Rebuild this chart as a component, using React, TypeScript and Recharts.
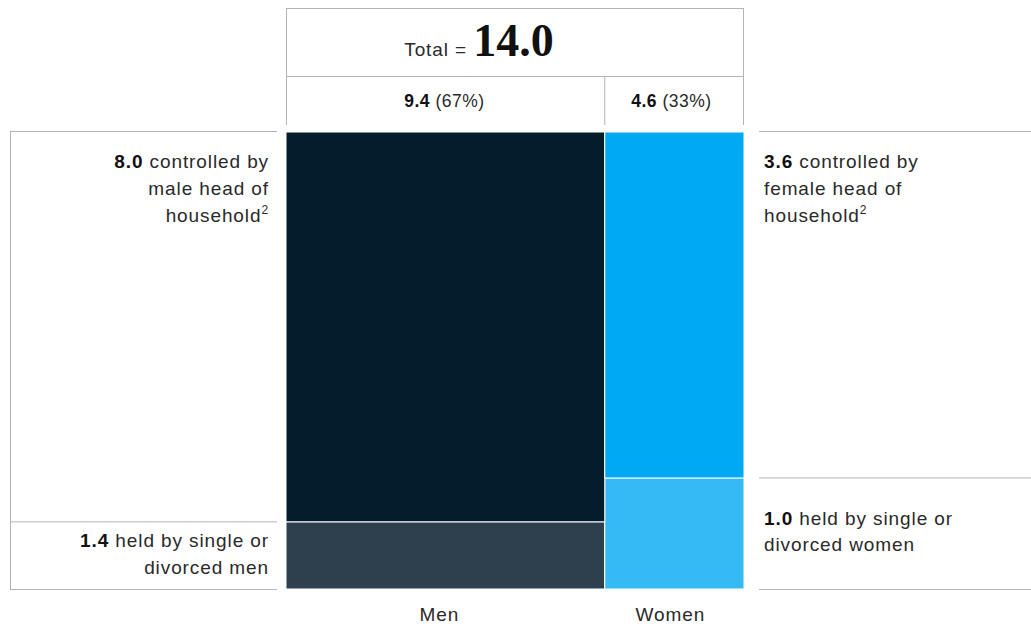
import { ComposedChart, XAxis, YAxis, ReferenceArea, Scatter, Customized } from 'recharts';

document.body.style.margin = '0';

const groups = ['Men', 'Women'];
const groupTotals = ['9.4', '4.6'];
const groupShares = ['67%', '33%'];
const total = '14.0';
// column widths as drawn, % of full chart width
const columnWidths = [69.6, 30.4];
// bottom segment (single / divorced) as drawn, % of column height
const singleShares = [14.7, 24.3];
const headValues = ['8.0', '3.6'];
const singleValues = ['1.4', '1.0'];

const headColors = ['#051c2c', '#00a9f4'];
const singleColors = ['#2e3f4e', '#35baf6'];

const W = 1031;
const H = 627;
const M = { top: 132, right: 287, bottom: 38, left: 286 };
const PW = W - M.left - M.right;
const PH = H - M.top - M.bottom;
const LINE = '#b4b4b4';
const SANS = '"Liberation Sans", Arial, sans-serif';
const SERIF = '"Liberation Serif", "DejaVu Serif", serif';
const TXT = '#2a2a2a';
const FS = 19;
const LS = 0.9;

const xPx = (pct: number) => M.left + (PW * pct) / 100;
const yPx = (pct: number) => M.top + PH * (1 - pct / 100);

const starts = columnWidths.map((_, i) => columnWidths.slice(0, i).reduce((a, b) => a + b, 0));

const data = groups.map((g, i) => ({
  name: g,
  x: starts[i] + columnWidths[i] / 2,
  y: singleShares[i],
}));

const Sup = () => (
  <tspan fontSize={12} dy={-8}>2</tspan>
);

const Annotations = () => {
  const menCenter = xPx(starts[0] + columnWidths[0] / 2);
  const womenCenter = xPx(starts[1] + columnWidths[1] / 2);
  const split = xPx(starts[1]);
  const menSplitY = yPx(singleShares[0]);
  const womenSplitY = yPx(singleShares[1]);
  const bottom = yPx(0) + 0.5;
  return (
    <g fontFamily={SANS} fill={TXT} letterSpacing={LS}>
      {/* top table */}
      <rect x={M.left + 0.5} y={8.5} width={PW - 1} height={68} fill="none" stroke={LINE} />
      <line x1={M.left + 0.5} x2={M.left + 0.5} y1={76} y2={125} stroke={LINE} />
      <line x1={M.left + PW - 0.5} x2={M.left + PW - 0.5} y1={76} y2={125} stroke={LINE} />
      <line x1={split} x2={split} y1={76} y2={125} stroke={LINE} />
      <text x={479} y={56} textAnchor="middle">
        <tspan fontSize={FS}>Total = </tspan>
        <tspan fontSize={46} fontWeight="bold" fontFamily={SERIF} fill="#111" letterSpacing={0}>{total}</tspan>
      </text>
      <text x={menCenter - 1} y={107} textAnchor="middle" fontSize={17.5} letterSpacing={0.5}>
        <tspan fontWeight="bold" fill="#111">{groupTotals[0]}</tspan> ({groupShares[0]})
      </text>
      <text x={womenCenter - 3} y={107} textAnchor="middle" fontSize={17.5} letterSpacing={0.5}>
        <tspan fontWeight="bold" fill="#111">{groupTotals[1]}</tspan> ({groupShares[1]})
      </text>

      {/* left annotation box */}
      <line x1={10} x2={277} y1={M.top - 0.5} y2={M.top - 0.5} stroke={LINE} />
      <line x1={10} x2={277} y1={menSplitY} y2={menSplitY} stroke={LINE} />
      <line x1={10} x2={277} y1={bottom} y2={bottom} stroke={LINE} />
      <line x1={10.5} x2={10.5} y1={M.top - 0.5} y2={bottom} stroke={LINE} />
      <text x={269} y={168} textAnchor="end" fontSize={FS}>
        <tspan fontWeight="bold" fill="#111">{headValues[0]}</tspan> controlled by
      </text>
      <text x={269} y={195} textAnchor="end" fontSize={FS}>male head of</text>
      <text x={269} y={222} textAnchor="end" fontSize={FS}>household<Sup /></text>
      <text x={269} y={547} textAnchor="end" fontSize={FS}>
        <tspan fontWeight="bold" fill="#111">{singleValues[0]}</tspan> held by single or
      </text>
      <text x={269} y={574} textAnchor="end" fontSize={FS}>divorced men</text>

      {/* right annotations */}
      <line x1={759} x2={W} y1={M.top - 0.5} y2={M.top - 0.5} stroke={LINE} />
      <line x1={759} x2={W} y1={womenSplitY} y2={womenSplitY} stroke={LINE} />
      <line x1={759} x2={W} y1={bottom} y2={bottom} stroke={LINE} />
      <text x={764} y={168} fontSize={FS}>
        <tspan fontWeight="bold" fill="#111">{headValues[1]}</tspan> controlled by
      </text>
      <text x={764} y={195} fontSize={FS}>female head of</text>
      <text x={764} y={222} fontSize={FS}>household<Sup /></text>
      <text x={764} y={525} fontSize={FS}>
        <tspan fontWeight="bold" fill="#111">{singleValues[1]}</tspan> held by single or
      </text>
      <text x={764} y={551} fontSize={FS}>divorced women</text>

      {/* column labels */}
      <text x={menCenter - 6} y={621} textAnchor="middle" fontSize={FS}>{groups[0]}</text>
      <text x={womenCenter - 4} y={621} textAnchor="middle" fontSize={FS}>{groups[1]}</text>
    </g>
  );
};

export default function App() {
  return (
    <div style={{ width: W, height: H, background: '#fff' }}>
      <ComposedChart width={W} height={H} margin={M} data={data}>
        <XAxis type="number" dataKey="x" domain={[0, 100]} allowDataOverflow hide />
        <YAxis type="number" dataKey="y" domain={[0, 100]} allowDataOverflow hide />
        <Scatter dataKey="y" fill="none" shape={() => <g />} isAnimationActive={false} />
        {groups.map((g, i) => (
          <ReferenceArea
            key={g + '-single'}
            x1={starts[i]}
            x2={starts[i] + columnWidths[i]}
            y1={0}
            y2={singleShares[i]}
            fill={singleColors[i]}
            fillOpacity={1}
            stroke="#ffffff"
            strokeWidth={1}
            ifOverflow="visible"
          />
        ))}
        {groups.map((g, i) => (
          <ReferenceArea
            key={g + '-head'}
            x1={starts[i]}
            x2={starts[i] + columnWidths[i]}
            y1={singleShares[i]}
            y2={100}
            fill={headColors[i]}
            fillOpacity={1}
            stroke="#ffffff"
            strokeWidth={1}
            ifOverflow="visible"
          />
        ))}
        <Customized component={<Annotations />} />
      </ComposedChart>
    </div>
  );
}
